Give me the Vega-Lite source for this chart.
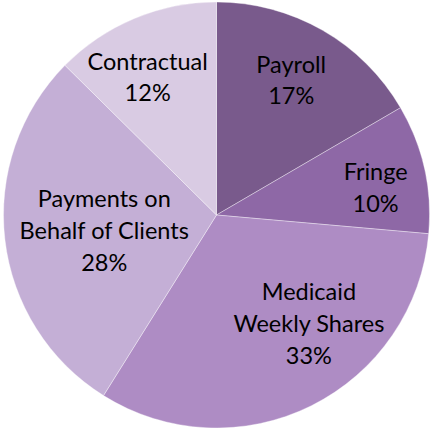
{
  "$schema": "https://vega.github.io/schema/vega-lite/v6.json",
  "width": 429,
  "height": 428,
  "padding": {"left": 2, "top": 1, "right": 0, "bottom": 0},
  "autosize": "none",
  "background": "white",
  "view": {"stroke": null},
  "data": {"values": [
    {"category": "Payroll", "value": 16.6, "order": 1, "label": "Payroll\n17%"},
    {"category": "Fringe", "value": 9.8, "order": 2, "label": "Fringe\n10%"},
    {"category": "Medicaid Weekly Shares", "value": 32.5, "order": 3, "label": "Medicaid\nWeekly Shares\n33%"},
    {"category": "Payments on Behalf of Clients", "value": 28.5, "order": 4, "label": "Payments on\nBehalf of Clients\n28%"},
    {"category": "Contractual", "value": 12.6, "order": 5, "label": "Contractual\n12%"}
  ]},
  "transform": [
    {"stack": "value", "groupby": [], "sort": [{"field": "order"}], "as": ["s0", "s1"]},
    {"calculate": "(datum.s0 + datum.s1) / 2", "as": "mid"}
  ],
  "layer": [
    {
      "mark": {"type": "arc", "outerRadius": 213, "stroke": "white", "strokeWidth": 0.6, "strokeOpacity": 0.6},
      "encoding": {
        "theta": {"field": "s0", "type": "quantitative", "scale": {"domain": [0, 100]}},
        "theta2": {"field": "s1"},
        "color": {"field": "category", "type": "nominal", "legend": null,
          "scale": {"domain": ["Payroll", "Fringe", "Medicaid Weekly Shares", "Payments on Behalf of Clients", "Contractual"],
                    "range": ["#795a8c", "#8e68a6", "#ae8cc4", "#c4afd6", "#d9cbe3"]}}
      }
    },
    {
      "transform": [{"filter": "datum.category == 'Payroll'"}],
      "mark": {"type": "text", "radius": 150, "dx": 0, "dy": -19, "font": "Lato", "fontSize": 23.5, "lineHeight": 31, "lineBreak": "\n", "align": "center", "baseline": "middle", "color": "black"},
      "encoding": {"theta": {"field": "mid", "type": "quantitative", "scale": {"domain": [0, 100]}}, "text": {"field": "label"}}
    },
    {
      "transform": [{"filter": "datum.category == 'Fringe'"}],
      "mark": {"type": "text", "radius": 160, "dx": 3, "dy": -7, "font": "Lato", "fontSize": 23.5, "lineHeight": 32, "lineBreak": "\n", "align": "center", "baseline": "middle", "color": "black"},
      "encoding": {"theta": {"field": "mid", "type": "quantitative", "scale": {"domain": [0, 100]}}, "text": {"field": "label"}}
    },
    {
      "transform": [{"filter": "datum.category == 'Medicaid Weekly Shares'"}],
      "mark": {"type": "text", "radius": 140, "dx": 30, "dy": -47, "font": "Lato", "fontSize": 23.5, "lineHeight": 32, "lineBreak": "\n", "align": "center", "baseline": "middle", "color": "black"},
      "encoding": {"theta": {"field": "mid", "type": "quantitative", "scale": {"domain": [0, 100]}}, "text": {"field": "label"}}
    },
    {
      "transform": [{"filter": "datum.category == 'Payments on Behalf of Clients'"}],
      "mark": {"type": "text", "radius": 113, "dx": 0, "dy": -28, "font": "Lato", "fontSize": 23.5, "lineHeight": 32, "lineBreak": "\n", "align": "center", "baseline": "middle", "color": "black"},
      "encoding": {"theta": {"field": "mid", "type": "quantitative", "scale": {"domain": [0, 100]}}, "text": {"field": "label"}}
    },
    {
      "transform": [{"filter": "datum.category == 'Contractual'"}],
      "mark": {"type": "text", "radius": 150, "dx": -11, "dy": -14, "font": "Lato", "fontSize": 23.5, "lineHeight": 31, "lineBreak": "\n", "align": "center", "baseline": "middle", "color": "black"},
      "encoding": {"theta": {"field": "mid", "type": "quantitative", "scale": {"domain": [0, 100]}}, "text": {"field": "label"}}
    }
  ]
}
